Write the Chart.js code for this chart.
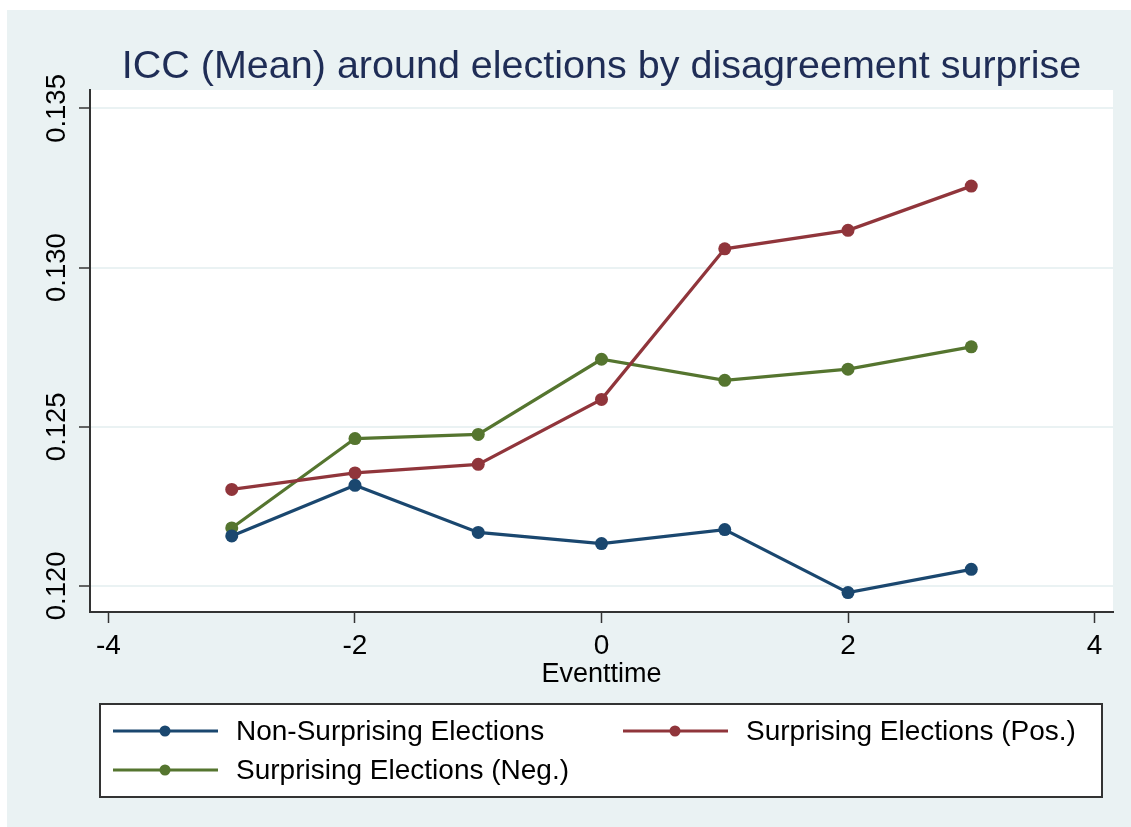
<!DOCTYPE html>
<html><head><meta charset="utf-8">
<script src="https://cdn.jsdelivr.net/npm/chart.js@4.4.0/dist/chart.umd.min.js"></script>
<style>html,body{margin:0;padding:0;background:#fff;}#wrap{width:1131px;height:827px;position:relative;}</style>
</head><body><div id="wrap"><canvas id="c" width="1131" height="827"></canvas></div>
<script>
const eventtime = [-3, -2, -1, 0, 1, 2, 3];
const nonSurprising = [0.12157, 0.12316, 0.12168, 0.12133, 0.12177, 0.11979, 0.12052];
const surprisingPos = [0.12303, 0.12355, 0.12382, 0.12586, 0.13059, 0.13117, 0.13256];
const surprisingNeg = [0.12182, 0.12463, 0.12476, 0.12712, 0.12646, 0.12681, 0.12751];
const seriesLabels = ['Non-Surprising Elections', 'Surprising Elections (Pos.)', 'Surprising Elections (Neg.)'];
const seriesColors = ['#1a476f', '#90353b', '#55752f'];
const xTicks = [-4, -2, 0, 2, 4];
const yTicks = [0.120, 0.125, 0.130, 0.135];
const yTickLabels = ['0.120', '0.125', '0.130', '0.135'];
const titleText = 'ICC (Mean) around elections by disagreement surprise';
const xAxisTitle = 'Eventtime';

const FONT = '"Liberation Sans", Arial, sans-serif';
const BG = '#eaf2f3';

function pts(vals) { return eventtime.map((x, i) => ({ x: x, y: vals[i] })); }
const seriesData = [nonSurprising, surprisingPos, surprisingNeg];

const decor = {
  id: 'decor',
  beforeDraw(chart) {
    const ctx = chart.ctx, a = chart.chartArea;
    ctx.save();
    ctx.fillStyle = '#fff';
    ctx.fillRect(0, 0, chart.width, chart.height);
    ctx.fillStyle = BG;
    ctx.fillRect(7, 10, chart.width - 7, chart.height - 10);
    ctx.fillStyle = '#fff';
    ctx.fillRect(a.left, a.top, a.right - a.left, a.bottom - a.top);
    ctx.fillStyle = '#1f2d56';
    ctx.font = '39.5px ' + FONT;
    ctx.textAlign = 'center';
    ctx.textBaseline = 'alphabetic';
    ctx.fillText(titleText, (a.left + a.right) / 2, 78);
    ctx.restore();
  },
  afterDraw(chart) {
    const ctx = chart.ctx, a = chart.chartArea;
    const ys = chart.scales.y;
    ctx.save();
    ctx.fillStyle = '#000';
    ctx.font = '27.5px ' + FONT;
    ctx.textAlign = 'center';
    ctx.textBaseline = 'alphabetic';
    yTicks.forEach((v, i) => {
      const py = ys.getPixelForValue(v);
      ctx.save();
      ctx.translate(65, py);
      ctx.rotate(-Math.PI / 2);
      ctx.fillText(yTickLabels[i], 0, 0);
      ctx.restore();
    });
    ctx.font = '27px ' + FONT;
    ctx.fillText(xAxisTitle, (a.left + a.right) / 2, 682);
    // legend
    const bx = 100, by = 704, bw = 1002, bh = 93;
    ctx.fillStyle = '#fff';
    ctx.fillRect(bx, by, bw, bh);
    ctx.strokeStyle = '#333';
    ctx.lineWidth = 2;
    ctx.strokeRect(bx, by, bw, bh);
    const items = [
      { lx: 113, ly: 731, tx: 236, ty: 740 },
      { lx: 623, ly: 731, tx: 746, ty: 740 },
      { lx: 113, ly: 770, tx: 236, ty: 779 }
    ];
    items.forEach((it, i) => {
      ctx.strokeStyle = seriesColors[i];
      ctx.lineWidth = 3;
      ctx.beginPath();
      ctx.moveTo(it.lx, it.ly);
      ctx.lineTo(it.lx + 105, it.ly);
      ctx.stroke();
      ctx.fillStyle = seriesColors[i];
      ctx.beginPath();
      ctx.arc(it.lx + 52, it.ly, 5.5, 0, Math.PI * 2);
      ctx.fill();
      ctx.fillStyle = '#000';
      ctx.font = '28px ' + FONT;
      ctx.textAlign = 'left';
      ctx.fillText(seriesLabels[i], it.tx, it.ty);
    });
    ctx.restore();
  }
};

new Chart(document.getElementById('c'), {
  type: 'line',
  data: {
    datasets: seriesData.map((vals, i) => ({
      label: seriesLabels[i],
      data: pts(vals),
      borderColor: seriesColors[i],
      backgroundColor: seriesColors[i],
      borderWidth: 3.2,
      pointRadius: 6.5,
      pointBorderWidth: 0,
      pointBackgroundColor: seriesColors[i],
      tension: 0,
      fill: false
    }))
  },
  options: {
    responsive: false,
    devicePixelRatio: 1,
    animation: false,
    layout: { padding: { top: 90, right: 18, left: 0, bottom: 0 } },
    plugins: { legend: { display: false }, title: { display: false }, tooltip: { enabled: false } },
    scales: {
      x: {
        type: 'linear',
        min: -4.15, max: 4.15,
        afterBuildTicks: s => { s.ticks = xTicks.map(v => ({ value: v })); },
        afterFit: s => { s.height = 215; },
        grid: { drawOnChartArea: false, drawTicks: true, tickLength: 11, tickColor: '#333', tickWidth: 1.5 },
        border: { display: true, color: '#333', width: 2 },
        ticks: { font: { size: 28, family: FONT }, color: '#000', padding: 6, maxRotation: 0, minRotation: 0, autoSkip: false,
                 callback: v => String(v) }
      },
      y: {
        type: 'linear',
        min: 0.11918, max: 0.13558,
        afterBuildTicks: s => { s.ticks = yTicks.map(v => ({ value: v })); },
        afterFit: s => { s.width = 90; },
        grid: { color: BG, lineWidth: 2, drawTicks: true, tickLength: 11, tickColor: '#333', tickWidth: 1.5 },
        border: { display: true, color: '#333', width: 2 },
        ticks: { display: false }
      }
    }
  },
  plugins: [decor]
});
</script></body></html>
